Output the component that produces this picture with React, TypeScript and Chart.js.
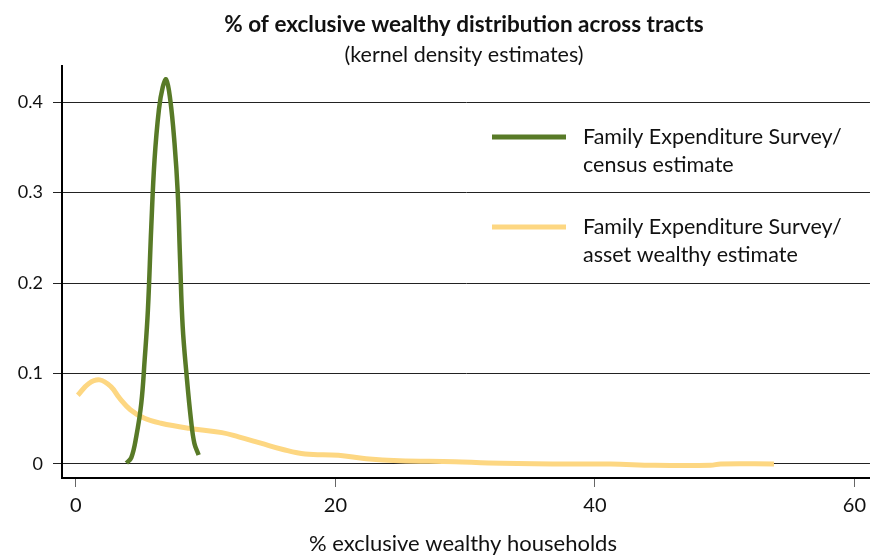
import React, { useEffect, useRef } from "react";
import { Chart, registerables } from "chart.js";

Chart.register(...registerables);

const titleText = "% of exclusive wealthy distribution across tracts";
const subtitleText = "(kernel density estimates)";
const xAxisTitle = "% exclusive wealthy households";
const censusLabel = ["Family Expenditure Survey/", "census estimate"];
const assetLabel = ["Family Expenditure Survey/", "asset wealthy estimate"];

const yTickValues = [0, 0.1, 0.2, 0.3, 0.4];
const xTickValues = [0, 20, 40, 60];

const censusX = [3.89, 4.27, 4.65, 5.04, 5.3, 5.55, 5.81, 6.06, 6.4, 6.7, 6.96, 7.27, 7.6, 7.85, 8.03, 8.23, 8.54, 8.87, 9.13, 9.46];
const censusY = [0.001, 0.007, 0.03, 0.067, 0.115, 0.17, 0.262, 0.336, 0.392, 0.417, 0.425, 0.403, 0.355, 0.3, 0.226, 0.152, 0.097, 0.049, 0.023, 0.01];

const assetX = [0.15, 1.0, 1.84, 2.7, 3.35, 4.2, 5.28, 6.56, 8.7, 11.26, 12.54, 14.25, 15.96, 17.67, 20.23, 22.37, 24.93, 29.2, 31.8, 36.9, 41.2, 44.6, 48.9, 49.7, 53.8];
const assetY = [0.076, 0.089, 0.093, 0.0855, 0.073, 0.06, 0.0505, 0.045, 0.0395, 0.0347, 0.03, 0.023, 0.016, 0.011, 0.0096, 0.0058, 0.0036, 0.0026, 0.001, 0.0, 0.0, -0.0015, -0.0015, 0.0, 0.0];

const GREEN = "#587a27";
const YELLOW = "#fdd782";
const FONT = "Lato";

const overlayPlugin = {
  id: "overlay",
  afterDraw(chart: any) {
    const ctx = chart.ctx;
    const area = chart.chartArea;
    ctx.save();
    ctx.fillStyle = "#111";
    ctx.textAlign = "center";
    ctx.textBaseline = "middle";
    ctx.font = `bold 22.5px ${FONT}`;
    ctx.fillText(titleText, 464, 25);
    ctx.font = `21.5px ${FONT}`;
    ctx.fillText(subtitleText, 464, 55);
    ctx.font = `22px ${FONT}`;
    ctx.fillText(xAxisTitle, 463, 544);

    const drawEntry = (color: string, lines: string[], y: number) => {
      ctx.strokeStyle = color;
      ctx.lineWidth = 5;
      ctx.beginPath();
      ctx.moveTo(area.left + 430, y);
      ctx.lineTo(area.left + 504, y);
      ctx.stroke();
      ctx.fillStyle = "#111";
      ctx.textAlign = "left";
      ctx.font = `21.5px ${FONT}`;
      lines.forEach((l, i) => ctx.fillText(l, area.left + 521, y + i * 28));
    };
    drawEntry(GREEN, censusLabel, 137);
    drawEntry(YELLOW, assetLabel, 227);
    ctx.restore();
  },
};

export default function App() {
  const ref = useRef<HTMLCanvasElement | null>(null);
  useEffect(() => {
    if (!ref.current) return;
    const chart = new Chart(ref.current, {
      type: "line",
      data: {
        datasets: [
          {
            label: "census",
            data: censusX.map((x, i) => ({ x, y: censusY[i] })),
            borderColor: GREEN,
            borderWidth: 4.5,
            pointRadius: 0,
            tension: 0.4,
            fill: false,
          },
          {
            label: "asset",
            data: assetX.map((x, i) => ({ x, y: assetY[i] })),
            borderColor: YELLOW,
            borderWidth: 5,
            pointRadius: 0,
            tension: 0.4,
            fill: false,
          },
        ],
      },
      options: {
        animation: false,
        responsive: false,
        maintainAspectRatio: false,
        layout: { padding: { top: 66, left: 0, right: 0, bottom: 0 } },
        plugins: { legend: { display: false }, title: { display: false }, tooltip: { enabled: false } },
        scales: {
          x: {
            type: "linear",
            min: -1.07,
            max: 61.2,
            afterBuildTicks: (s: any) => {
              s.ticks = xTickValues.map((v) => ({ value: v }));
            },
            afterFit: (s: any) => {
              s.height = 79;
            },
            grid: { drawOnChartArea: false, drawTicks: true, tickLength: 9, color: "#666", lineWidth: 1 },
            border: { display: true, color: "#000", width: 2 },
            ticks: { color: "#111", font: { family: FONT, size: 20 }, padding: 7, maxRotation: 0 },
          },
          y: {
            type: "linear",
            min: -0.0155,
            max: 0.44,
            afterBuildTicks: (s: any) => {
              s.ticks = yTickValues.map((v) => ({ value: v }));
            },
            afterFit: (s: any) => {
              s.width = 62;
            },
            grid: { drawOnChartArea: true, drawTicks: true, tickLength: 9, color: "#222", lineWidth: 1 },
            border: { display: true, color: "#000", width: 2 },
            ticks: { color: "#111", font: { family: FONT, size: 18 }, padding: 10, callback: (v: any) => String(v) },
          },
        },
      },
      plugins: [overlayPlugin],
    } as any);
    return () => chart.destroy();
  }, []);
  return (
    <div style={{ position: "fixed", left: 0, top: 0, width: 873, height: 557, background: "#fff" }}>
      <canvas ref={ref} width={873} height={557} style={{ width: 873, height: 557 }} />
    </div>
  );
}
